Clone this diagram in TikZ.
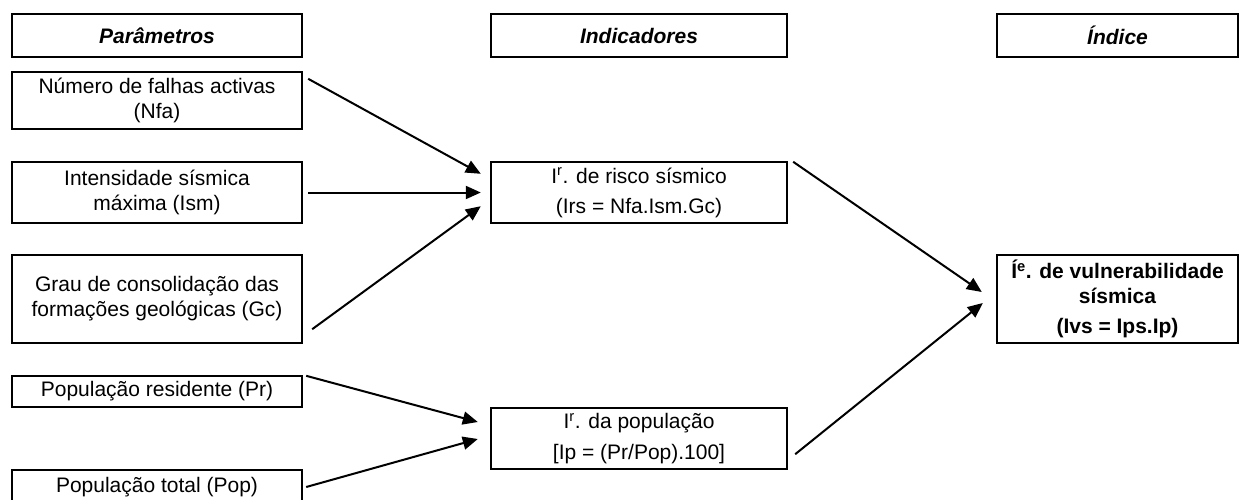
\documentclass[tikz,border=0pt]{standalone}
\usepackage{fontspec}
\setmainfont{Liberation Sans}
\usetikzlibrary{arrows.meta,calc}
\tikzset{
  box/.style={draw=black, line width=2.4pt, inner sep=0pt, align=center,
    font=\fontsize{21}{25}\selectfont},
  hdr/.style={box, font=\fontsize{21}{25}\selectfont\bfseries\itshape},
  conn/.style={line width=2pt, -{Triangle[length=15pt,width=13pt]}},
}
\begin{document}
\begin{tikzpicture}[x=1pt,y=-1pt]
\useasboundingbox (0,0) rectangle (1240,499);
% headers
\node[hdr, minimum width=290, minimum height=43] (hpar) at (157,35.5) {Parâmetros};
\node[hdr, minimum width=296, minimum height=43] (hind) at (639,35.5) {Indicadores};
\node[hdr, minimum width=241, minimum height=43] (hidx) at (1117.5,35.5) {Índice};
% parameters
\node[box, minimum width=290, minimum height=57] (nfa) at (157,100.5) {Número de falhas activas\\(Nfa)};
\node[box, minimum width=290, minimum height=61] (ism) at (157,192.5) {Intensidade sísmica\\máxima (Ism)};
\node[box, minimum width=290, minimum height=88] (gc) at (157,299) {Grau de consolidação das\\formações geológicas (Gc)};
\node[box, minimum width=290, minimum height=31] (pr) at (157,391.5) {População residente (Pr)};
\node[box, minimum width=290, minimum height=34] (pop) at (157,487) {População total (Pop)};
% indicators
\node[box, minimum width=296, minimum height=61] (irs) at (639,192.5) {I\textsuperscript{r}. de risco sísmico\\[5pt](Irs = Nfa.Ism.Gc)};
\node[box, minimum width=296, minimum height=61] (ip) at (639,438.5) {I\textsuperscript{r}. da população\\[6pt][Ip = (Pr/Pop).100]};
% index
\node[box, minimum width=241, minimum height=88, font=\fontsize{21}{25}\selectfont\bfseries] (ive) at (1117.5,299) {Í\textsuperscript{e}. de vulnerabilidade\\sísmica\\[5pt](Ivs = Ips.Ip)};
% connectors
\draw[conn] ($(nfa.north east)+(5,8)$) -- ($(irs.north west)+(-9,13)$);
\draw[conn] ($(ism.east)+(5,0)$) -- ($(irs.west)+(-9,0)$);
\draw[conn] ($(gc.south east)+(9,-15)$) -- ($(irs.south west)+(-9,-18)$);
\draw[conn] ($(irs.north east)+(5,1)$) -- ($(ive.west)+(-14,-7)$);
\draw[conn] ($(ip.south east)+(7,-16)$) -- ($(ive.west)+(-13,4)$);
\draw[conn] ($(pr.north east)+(3,1)$) -- ($(ip.west)+(-12,-16.5)$);
\draw[conn] ($(pop.east)+(3,0)$) -- ($(ip.west)+(-12,0.5)$);
\end{tikzpicture}
\end{document}
